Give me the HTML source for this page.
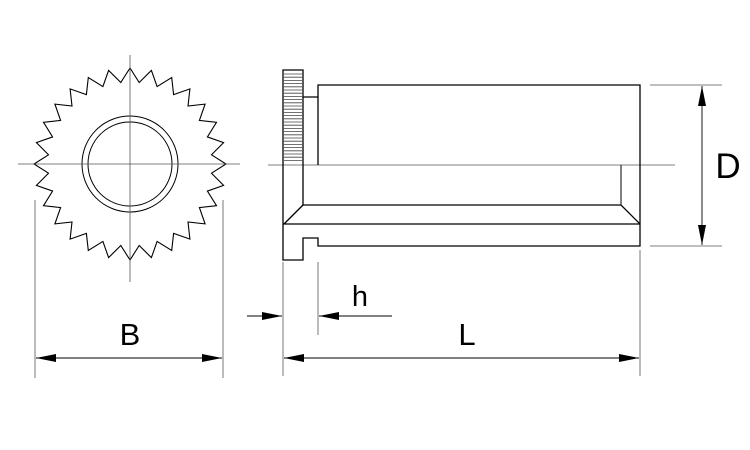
<!DOCTYPE html>
<html><head><meta charset="utf-8"><style>
html,body{margin:0;padding:0;background:#fff;}
svg{display:block;}
text{font-family:"Liberation Sans",sans-serif;fill:#000;}
</style></head><body>
<svg width="750" height="450" viewBox="0 0 750 450" xmlns="http://www.w3.org/2000/svg">
<defs>
<marker id="a" viewBox="0 0 20 8" refX="20" refY="4" markerWidth="20" markerHeight="8" markerUnits="userSpaceOnUse" orient="auto-start-reverse"><path d="M0,0 L20,4 L0,8 Z" fill="#000"/></marker>
</defs>
<g stroke="#000" fill="none" stroke-width="1.2">
<polygon id="gear" stroke-width="1.1"/>
<circle cx="130" cy="164" r="48" stroke-width="1"/>
<circle cx="130" cy="164" r="42" stroke-width="1"/>
</g>
<g stroke="#555" stroke-width="0.8" fill="none">
<line x1="18" y1="164" x2="240" y2="164"/>
<line x1="130" y1="55" x2="130" y2="282"/>
<line x1="268" y1="165" x2="675" y2="165"/>
<line x1="35" y1="200" x2="35" y2="378"/>
<line x1="223" y1="200" x2="223" y2="378"/>
<line x1="283" y1="262" x2="283" y2="376"/>
<line x1="640" y1="250" x2="640" y2="376"/>
<line x1="318" y1="262" x2="318" y2="335"/>
<line x1="650" y1="85" x2="722" y2="85"/>
<line x1="650" y1="246" x2="722" y2="246"/>
</g>
<g stroke="#000" stroke-width="0.9" fill="none">
<line x1="36" y1="358" x2="222" y2="358" marker-start="url(#a)" marker-end="url(#a)"/>
<line x1="284" y1="358" x2="639" y2="358" marker-start="url(#a)" marker-end="url(#a)"/>
<line x1="702" y1="86" x2="702" y2="245" marker-start="url(#a)" marker-end="url(#a)"/>
<line x1="247" y1="316" x2="282" y2="316" marker-end="url(#a)"/>
<line x1="392" y1="316" x2="319" y2="316" marker-end="url(#a)"/>
</g>
<g stroke="#000" stroke-width="1.3" fill="none">
<path d="M283,70 H303 V97 H318 V85 H640 V246 H318 V238 H303 V260 H283 Z"/>
<line x1="318" y1="97" x2="318" y2="165"/>
<line x1="303" y1="97" x2="303" y2="205"/>
<path d="M303,205 H621 L640,224"/>
<line x1="283" y1="224" x2="640" y2="224"/>
<line x1="303" y1="205" x2="284" y2="224"/>
<line x1="621" y1="165" x2="621" y2="205" stroke-width="1"/>
</g>
<g stroke="#444" stroke-width="0.8" id="knurl"></g>
<text x="130" y="345" font-size="31" text-anchor="middle">B</text>
<text x="467" y="345" font-size="31" text-anchor="middle">L</text>
<text x="360" y="306" font-size="29" text-anchor="middle">h</text>
<text x="728" y="178" font-size="35" text-anchor="middle">D</text>
</svg>
<script>
var n=28,pts=[],cx=130,cy=164;
for(var i=0;i<n;i++){
 var a1=(i/n)*2*Math.PI-Math.PI/2, a2=((i+0.5)/n)*2*Math.PI-Math.PI/2;
 pts.push((cx+96*Math.cos(a1)).toFixed(1)+","+(cy+96*Math.sin(a1)).toFixed(1));
 pts.push((cx+82*Math.cos(a2)).toFixed(1)+","+(cy+82*Math.sin(a2)).toFixed(1));
}
document.getElementById("gear").setAttribute("points",pts.join(" "));
var k=document.getElementById("knurl"),s="";
for(var y=74;y<=162;y+=3.2){s+='<line x1="284" y1="'+y+'" x2="302" y2="'+y+'"/>';}
k.innerHTML=s;
</script>
</body></html>
